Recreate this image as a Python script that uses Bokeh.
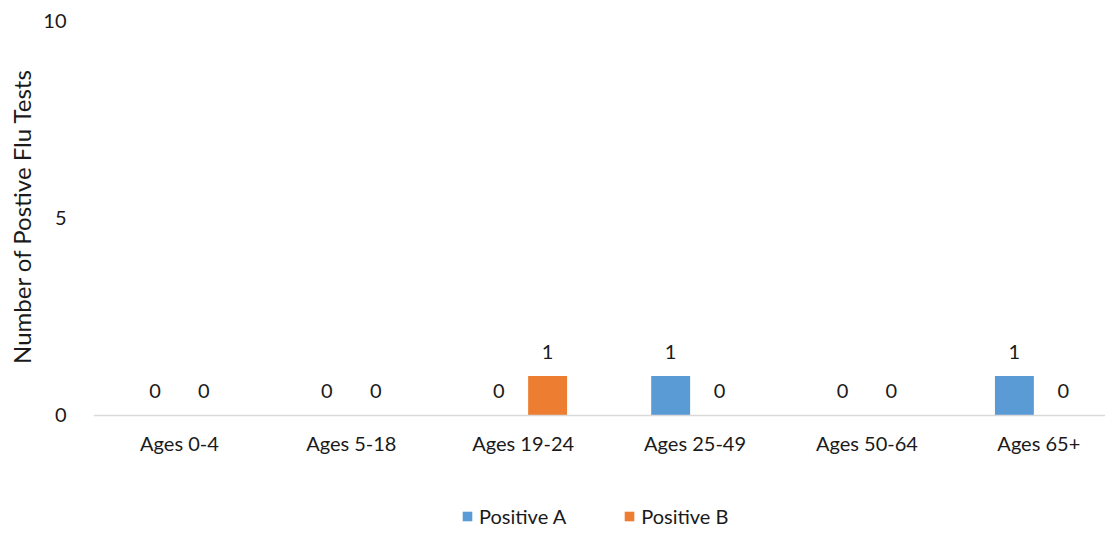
from bokeh.plotting import figure
from bokeh.models import ColumnDataSource, Range1d, FixedTicker, Legend, LegendItem, LabelSet, Title
from bokeh.transform import dodge
from bokeh.core.properties import value
from bokeh.embed import file_html
from bokeh.resources import INLINE

categories = ["Ages 0-4", "Ages 5-18", "Ages 19-24", "Ages 25-49", "Ages 50-64", "Ages 65+"]
positive_a = [0, 0, 0, 1, 0, 1]
positive_b = [0, 0, 1, 0, 0, 0]
y_ticks = [0, 5, 10]
y_title = "Number of Postive Flu Tests"

FONT = "Lato"
TXT = "#1a1a1a"
BLUE = "#5B9BD5"
ORANGE = "#ED7D31"

pos = list(range(len(categories)))
src = ColumnDataSource(dict(x=pos, a=positive_a, b=positive_b,
                            la=[str(v) for v in positive_a], lb=[str(v) for v in positive_b]))

# frame runs to the bottom of the figure; y=0 sits 113px above the bottom,
# leaving room for the category labels and the legend inside the frame
p = figure(width=1105, height=528, output_backend="svg", toolbar_location=None,
           x_range=Range1d(-0.5, 5.388), y_range=Range1d(-2.861, 10),
           min_border_left=83, min_border_right=0, min_border_top=20, min_border_bottom=0)
p.outline_line_color = None
p.xgrid.visible = False
p.ygrid.visible = False

off = 0.142
w = 0.2265
ra = p.vbar(x=dodge("x", -off, range=p.x_range), top="a", width=w, source=src, color=BLUE, line_color=None)
rb = p.vbar(x=dodge("x", off, range=p.x_range), top="b", width=w, source=src, color=ORANGE, line_color=None)

for col, lab, o in (("a", "la", -off), ("b", "lb", off)):
    ls = LabelSet(x=dodge("x", o, range=p.x_range), y=col, text=lab, source=src,
                  text_align="center", text_baseline="middle", y_offset=24,
                  text_font=value(FONT), text_font_size="20px", text_color=TXT)
    p.add_layout(ls)

xa = p.xaxis[0]
xa.fixed_location = 0
xa.ticker = FixedTicker(ticks=pos)
xa.major_label_overrides = {i: c for i, c in enumerate(categories)}
xa.major_tick_line_color = None
xa.minor_tick_line_color = None
xa.axis_line_color = "#D9D9D9"
xa.axis_line_width = 1.5
xa.major_label_standoff = 10
xa.major_label_text_font = FONT
xa.major_label_text_font_size = "20px"
xa.major_label_text_color = TXT

ya = p.yaxis[0]
ya.ticker = FixedTicker(ticks=y_ticks)
ya.major_tick_line_color = None
ya.minor_tick_line_color = None
ya.axis_line_color = None
ya.major_label_standoff = 21
ya.major_label_text_font = FONT
ya.major_label_text_font_size = "20px"
ya.major_label_text_color = TXT

ytitle = Title(text=y_title, align="right", offset=48, standoff=9,
               text_font=FONT, text_font_size="24px", text_font_style="normal", text_color=TXT)
p.add_layout(ytitle, "left")

legend = Legend(items=[LegendItem(label="Positive A", renderers=[ra]),
                       LegendItem(label="Positive B", renderers=[rb])],
                orientation="horizontal", location=(368, 0),
                label_text_font=FONT, label_text_font_size="20px", label_text_color=TXT,
                glyph_width=12, glyph_height=12, label_standoff=6, spacing=57,
                padding=0, margin=0, border_line_color=None, background_fill_alpha=0)
p.add_layout(legend, "center")

open("out.html", "w").write(file_html(p, INLINE))
